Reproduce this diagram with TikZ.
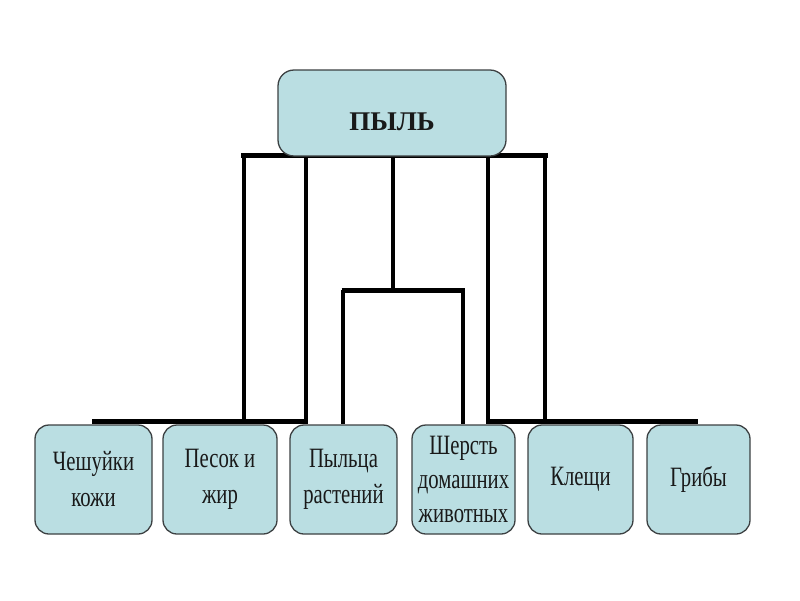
\documentclass[tikz,border=0pt]{standalone}
\usepackage{fontspec}
\setmainfont{Liberation Serif}
\newfontfamily\condfont[FakeStretch=0.74]{Liberation Serif}
\definecolor{boxfill}{RGB}{186,222,226}
\definecolor{boxline}{RGB}{60,64,66}
\begin{document}
\begin{tikzpicture}[x=1pt,y=-1pt,
  leaf/.style={draw=boxline,line width=1.3pt,fill=boxfill,rounded corners=14pt,
    minimum height=109pt,inner sep=0pt,align=center,
    font=\condfont\fontsize{28}{36}\selectfont,text=black!90},
  rootbox/.style={draw=boxline,line width=1.3pt,fill=boxfill,rounded corners=16pt,
    minimum width=228pt,minimum height=86pt,inner sep=0pt,
    font=\fontsize{27}{30}\selectfont\bfseries,text=black!90},
  bar/.style={line width=5pt},
  stem/.style={line width=3.5pt}]
\useasboundingbox (0,0) rectangle (800,600);
% coordinates of the branch lines
\coordinate (tl) at (241,155);
\coordinate (tr) at (548,155);
\coordinate (v1) at (244,155);
\coordinate (v2) at (306,155);
\coordinate (v3) at (393,155);
\coordinate (v4) at (488,155);
\coordinate (v5) at (545,155);
\coordinate (m) at (393,290);
\coordinate (ml) at (343,290);
\coordinate (mr) at (463,290);
\coordinate (bl1) at (92,421);
\coordinate (bl2) at (308,421);
\coordinate (br1) at (486,421);
\coordinate (br2) at (698,421);
\coordinate (w1) at (244,421);
\coordinate (w2) at (306,421);
\coordinate (w4) at (488,421);
\coordinate (w5) at (545,421);
% lines
\draw[bar] (tl) -- (tr);
\draw[bar] (bl1) -- (bl2);
\draw[bar] (br1) -- (br2);
\draw[stem] (v1) -- (w1);
\draw[stem] (v2) -- (w2);
\draw[stem] (v4) -- (w4);
\draw[stem] (v5) -- (w5);
\draw[stem] (v3) -- (m);
\draw[line width=5pt] ([xshift=-1.5pt]ml) -- ([xshift=1.5pt]mr);
% nodes
\node[rootbox] (root) at (392,113) {\raisebox{-17pt}[0pt][0pt]{ПЫЛЬ}};
\node[leaf,minimum width=117pt] (n1) at (93.5,479.5) {Чешуйки\\кожи};
\node[leaf,minimum width=114pt] (n2) at (220,479.5) {Песок и\\жир};
\node[leaf,minimum width=107pt] (n3) at (343.5,479.5) {Пыльца\\растений};
\node[leaf,minimum width=103pt,font=\condfont\fontsize{28}{34}\selectfont] (n4) at (463.5,479.5) {Шерсть\\домашних\\животных};
\node[leaf,minimum width=105pt] (n5) at (580.5,479.5) {Клещи};
\node[leaf,minimum width=103pt] (n6) at (698.5,479.5) {Грибы};
\draw[stem] (ml) -- (n3.north -| ml);
\draw[stem] (mr) -- (n4.north -| mr);
\end{tikzpicture}
\end{document}
